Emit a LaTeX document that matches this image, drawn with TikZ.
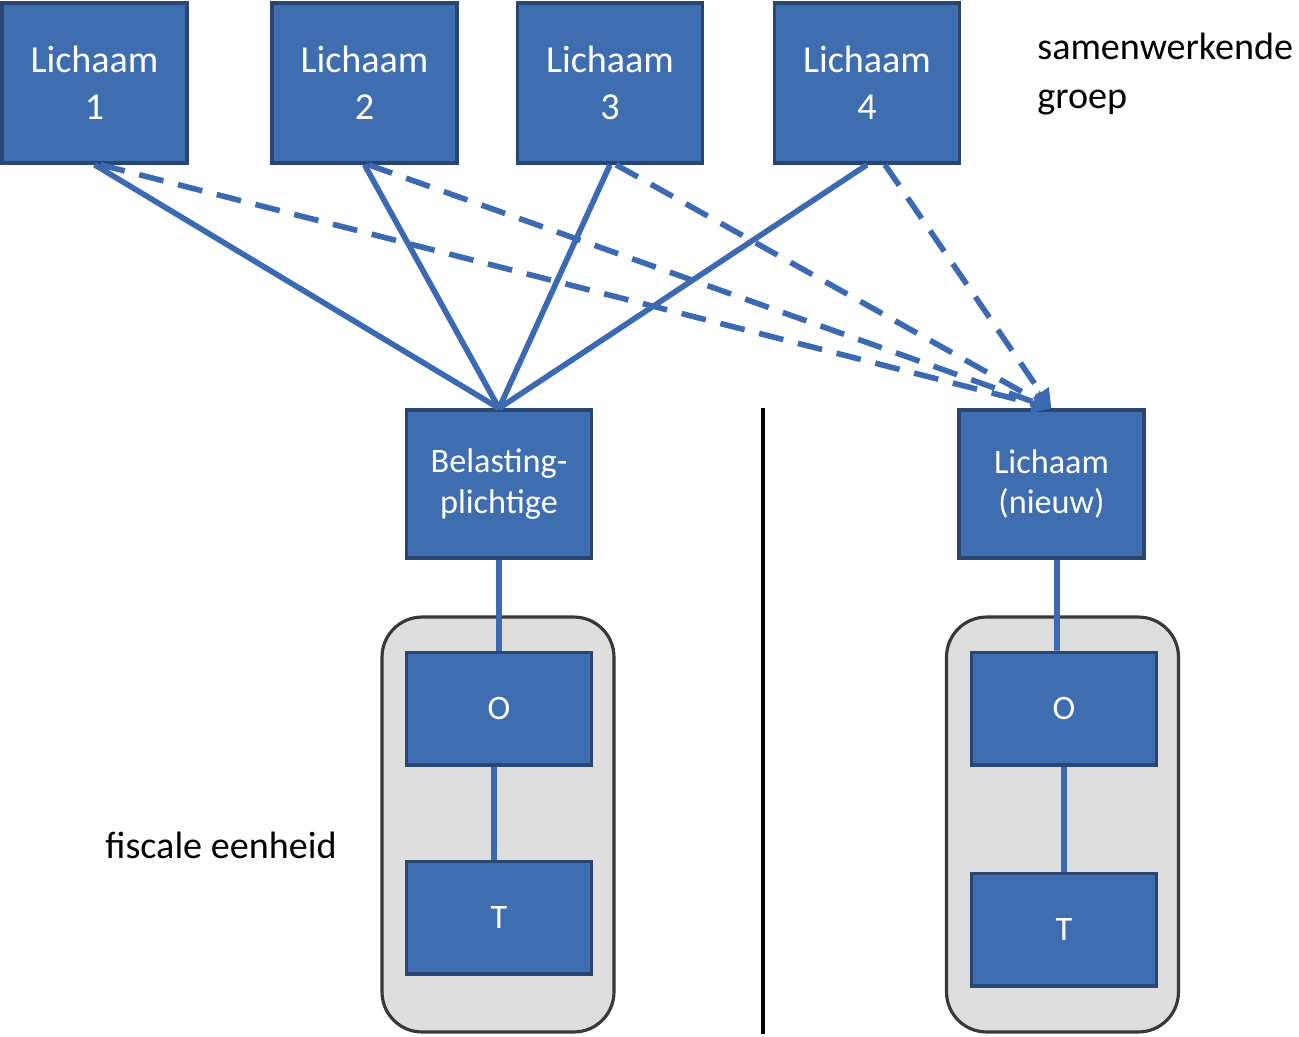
\documentclass[tikz,border=0pt]{standalone}
\usepackage{fontspec}
\setmainfont{Carlito}
\usetikzlibrary{arrows.meta}

\definecolor{boxblue}{HTML}{3E6DB0}
\definecolor{boxedge}{HTML}{284670}
\definecolor{linkblue}{HTML}{3C6AB2}
\definecolor{fegrey}{HTML}{DEDEDE}
\definecolor{feedge}{HTML}{383838}

\begin{document}
\begin{tikzpicture}[x=0.02cm,y=-0.02cm,
    lichaam/.style={draw=boxedge, line width=2pt, fill=boxblue, text=white,
        minimum width=3.7cm, minimum height=3.2cm, align=center,
        font=\fontsize{21.7}{26.5}\selectfont},
    midbox/.style={lichaam, minimum height=2.96cm, font=\fontsize{19.5}{23}\selectfont},
    fbox/.style={midbox, minimum height=2.25cm},
    fe/.style={draw=feedge, line width=1.8pt, fill=fegrey, rounded corners=0.8cm,
        minimum width=4.64cm, minimum height=8.3cm},
    link/.style={draw=linkblue, line width=3.2pt},
    dlink/.style={link, dash pattern=on 0.5cm off 0.3cm,
        -{Triangle[length=0.38cm,width=0.36cm]}}]
    \useasboundingbox (0,0) rectangle (1299,1036);

    % top row
    \node[lichaam] (l1) at (94.5,83) {Lichaam\\1};
    \node[lichaam] (l2) at (364.5,83) {Lichaam\\2};
    \node[lichaam] (l3) at (610,83) {Lichaam\\3};
    \node[lichaam] (l4) at (867,83) {Lichaam\\4};
    \node[anchor=north west, inner sep=0pt, align=left,
        font=\fontsize{21.7}{27.8}\selectfont] (groep) at (1037,33) {samenwerkende\\groep};

    % fiscale eenheden
    \node[fe] (fe1) at (498,824.5) {};
    \node[fe] (fe2) at (1062.5,824.5) {};

    \node[midbox] (bel) at (499,484) {Belasting-\\plichtige};
    \node[midbox] (nieuw) at (1051.5,484) {Lichaam\\(nieuw)};
    \node[fbox] (o1) at (499,708.5) {O};
    \node[fbox] (t1) at (499,917.5) {T};
    \node[fbox] (o2) at (1064,708.5) {O};
    \node[fbox] (t2) at (1064,929.5) {T};

    \node[anchor=base west, inner sep=0pt, font=\fontsize{21.7}{26}\selectfont]
        (fiscaal) at (105,858) {fiscale eenheid};

    % scheidingslijn
    \draw[line width=2.8pt] (763,408) -- (763,1034);

    % verbindingen
    \draw[link] (l1.south) -- (bel.north);
    \draw[link] (l2.south) -- (bel.north);
    \draw[link] (l3.south) -- (bel.north);
    \draw[link] (l4.south) -- (bel.north);

    \draw[dlink] ([xshift=0.12cm]l1.south) -- (nieuw.north);
    \draw[dlink] ([xshift=0.08cm]l2.south) -- (nieuw.north);
    \draw[dlink] ([xshift=0.12cm]l3.south) -- (nieuw.north);
    \draw[dlink] ([xshift=0.36cm]l4.south) -- (nieuw.north);

    \draw[link] (bel.south) -- (o1.north);
    \draw[link] ([xshift=-0.1cm]o1.south) -- ([xshift=-0.1cm]t1.north);
    \draw[link] ([xshift=0.11cm]nieuw.south) -- ([xshift=-0.14cm]o2.north);
    \draw[link] (o2.south) -- (t2.north);
\end{tikzpicture}
\end{document}
